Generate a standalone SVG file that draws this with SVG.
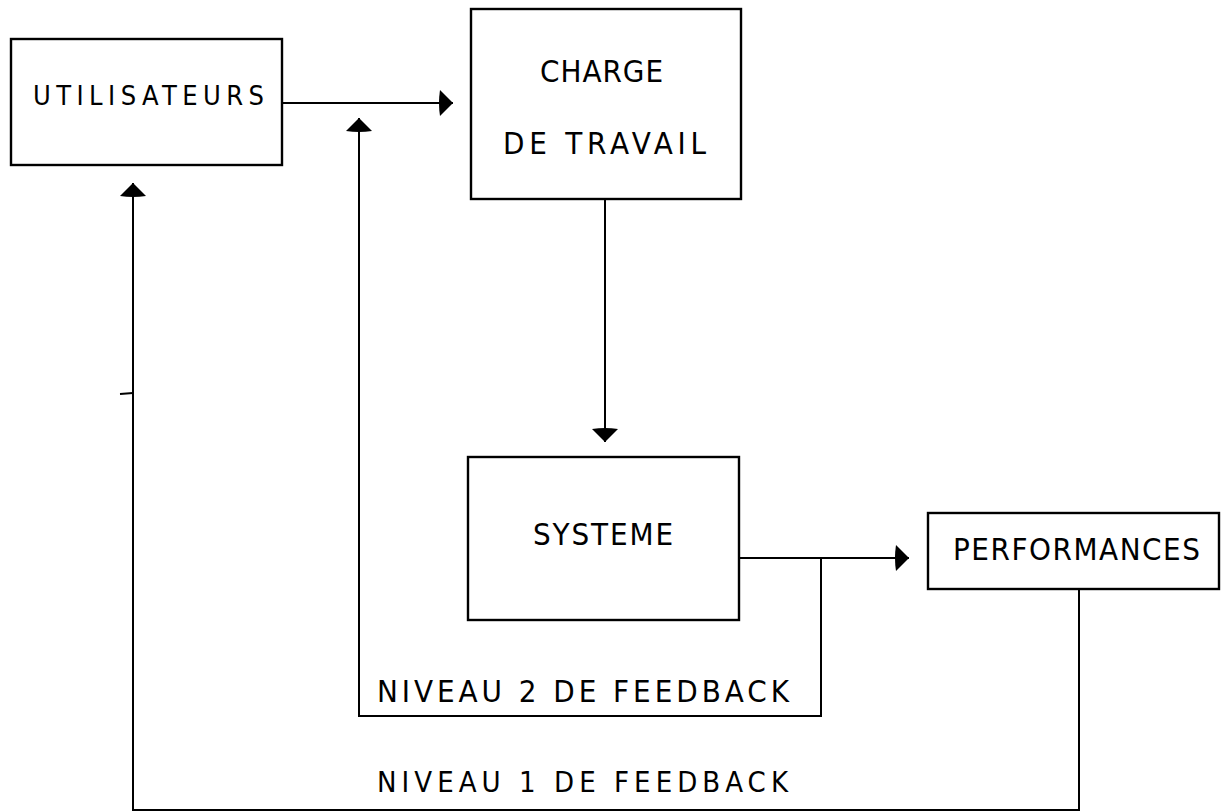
<svg xmlns="http://www.w3.org/2000/svg" width="1223" height="812" viewBox="0 0 1223 812">
<style>
.box{fill:none;stroke:#000;stroke-width:2.4}
.ln{fill:none;stroke:#000;stroke-width:2}
.t{font-family:"DejaVu Sans","Liberation Sans",sans-serif;font-stretch:condensed;font-weight:normal;font-size:31px;fill:#000}
</style>
<defs>
<marker id="arr" markerUnits="userSpaceOnUse" viewBox="-16 -15 18 30" markerWidth="18" markerHeight="30" refX="0" refY="0" orient="auto">
<path d="M0,0 L-13,-13 Q-15,0 -13,13 Z" fill="#000"/>
</marker>
</defs>
<rect width="1223" height="812" fill="#fff"/>
<g id="utilisateurs">
<rect class="box" x="11" y="39" width="271" height="126"/>
<text class="t" x="33" y="105" style="font-size:27px" textLength="231" lengthAdjust="spacing">UTILISATEURS</text>
</g>
<g id="charge">
<rect class="box" x="471" y="9" width="270" height="190"/>
<text class="t" x="540" y="82" textLength="123" lengthAdjust="spacing">CHARGE</text>
<text class="t" x="503" y="154" textLength="203" lengthAdjust="spacing">DE TRAVAIL</text>
</g>
<g id="systeme">
<rect class="box" x="468" y="457" width="271" height="163"/>
<text class="t" x="533" y="545" textLength="140" lengthAdjust="spacing">SYSTEME</text>
</g>
<g id="performances">
<rect class="box" x="928" y="513" width="291" height="76"/>
<text class="t" x="953" y="560" textLength="247" lengthAdjust="spacing">PERFORMANCES</text>
</g>
<g id="labels">
<text class="t" x="377" y="702" textLength="412" lengthAdjust="spacing">NIVEAU 2 DE FEEDBACK</text>
<text class="t" x="377" y="792" style="font-size:29px" textLength="411" lengthAdjust="spacing">NIVEAU 1 DE FEEDBACK</text>
</g>
<g id="connectors">
<line class="ln" x1="282" y1="103" x2="453" y2="103" marker-end="url(#arr)"/>
<line class="ln" x1="605" y1="199" x2="605" y2="442" marker-end="url(#arr)"/>
<line class="ln" x1="739" y1="558" x2="909" y2="558" marker-end="url(#arr)"/>
<path class="ln" d="M821,558 V716 H359 V118" marker-end="url(#arr)"/>
<path class="ln" d="M1079,589 V810 H133 V183" marker-end="url(#arr)"/>
<line class="ln" x1="120" y1="394" x2="133" y2="393"/>
</g>
</svg>
